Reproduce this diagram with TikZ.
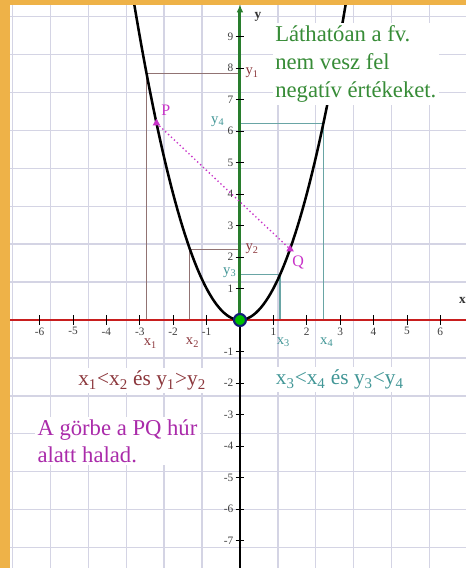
\documentclass[tikz,border=0pt]{standalone}
\usepackage{fontspec}
\setmainfont{Liberation Serif}
\usetikzlibrary{arrows.meta,shapes.geometric,positioning}

\definecolor{frameorange}{RGB}{238,178,72}
\definecolor{gridgray}{RGB}{212,212,228}
\definecolor{axisred}{RGB}{200,30,30}
\definecolor{axisgreen}{RGB}{40,125,45}
\definecolor{brownline}{RGB}{145,115,115}
\definecolor{brownlabel}{RGB}{140,55,60}
\definecolor{tealline}{RGB}{105,165,165}
\definecolor{teallabel}{RGB}{65,150,150}
\definecolor{chordpink}{RGB}{200,50,200}
\definecolor{notegreen}{RGB}{55,140,55}
\definecolor{originblue}{RGB}{20,30,120}

\begin{document}
\begin{tikzpicture}[
  x=25.05pt, y=23.63pt,
  gridline/.style={draw=gridgray, line width=1pt},
  tick/.style={black, line width=0.6pt},
  ticklabel/.style={font=\fontsize{8.5}{8.5}\selectfont, text=black!75, inner sep=1pt},
  curve/.style={line width=1.9pt, black},
  helpbrown/.style={draw=brownline, line width=0.8pt},
  helpteal/.style={draw=tealline, line width=0.8pt},
  brownlbl/.style={text=brownlabel, font=\fontsize{11}{11}\selectfont, inner sep=1pt},
  teallbl/.style={text=teallabel, font=\fontsize{11}{11}\selectfont, inner sep=1pt},
  marker/.style={regular polygon, regular polygon sides=3, fill=chordpink, inner sep=0pt, minimum size=6.5pt},
  note/.style={fill=white, align=left, inner sep=2pt}
]
\useasboundingbox (-7.186,-7.873) rectangle (6.766,10.159);
\clip (-7.186,-7.873) rectangle (6.766,10.159);
\fill[white] (-7.186,-7.873) rectangle (6.766,10.159);

% grid
\draw[gridline] (-7,-8) grid (7,10);

% helper lines
\coordinate (o) at (0,0);
\coordinate (xa) at (-2.8,0);
\coordinate (ya) at (0,7.84);
\coordinate (xb) at (-1.5,0);
\coordinate (yb) at (0,2.25);
\coordinate (xc) at (1.2,0);
\coordinate (yc) at (0,1.44);
\coordinate (xd) at (2.5,0);
\coordinate (yd) at (0,6.25);
\draw[helpbrown] (xa) |- (ya);
\draw[helpbrown] (xb) |- (yb);
\draw[helpteal] (xc) |- (yc);
\draw[helpteal] (xd) |- (yd);

% axes
\coordinate (xleft) at (-7.3,0);
\coordinate (xright) at (6.9,0);
\coordinate (ytop) at (0,10.02);
\coordinate (ybottom) at (0,-8);
\draw[axisred, line width=1.8pt] (xleft) -- (xright);
\draw[black, line width=1.4pt] (o) -- (ybottom);
\draw[axisgreen, line width=2.2pt, -{Latex[length=6pt,width=5pt]}] (o) -- (ytop);

\foreach \i in {-6,...,-1,1,2,...,6}{
  \draw[tick] (\i,-0.15) -- (\i,0.15);
  \node[ticklabel] (tx\i) at (\i,-0.36) {\i};
}
\foreach \j in {-7,...,-1,1,2,...,9}{
  \draw[tick] (-0.13,\j) -- (0.13,\j);
  \node[ticklabel, anchor=east] (ty\j) at (-0.15,\j) {\j};
}
\node[font=\fontsize{10}{10}\selectfont\bfseries, text=black!80] (ylabel) at (0.54,9.62) {y};
\node[font=\fontsize{10}{10}\selectfont\bfseries, text=black!80] (xlabel) at (6.66,0.63) {x};

% parabola
\draw[curve] plot[domain=-3.25:3.25, samples=90] (\x,{\x*\x});

% chord
\coordinate (P) at (-2.5,6.25);
\coordinate (Q) at (1.5,2.25);
\draw[chordpink, dotted, line width=1pt] (P) -- (Q);
\node[marker] (mp) at (P) {};
\node[marker] (mq) at (Q) {};
\node[text=chordpink, font=\fontsize{12}{12}\selectfont] (plabel) at (-2.22,6.66) {P};
\node[text=chordpink, font=\fontsize{12}{12}\selectfont] (qlabel) at (1.74,1.84) {Q};

% origin
\node[circle, fill=green!75!black, draw=originblue, line width=1.6pt, inner sep=0pt, minimum size=9pt] (origin) at (o) {};

% labels of helper lines
\node[brownlbl, anchor=west] (ylbla) at (0.12,7.84) {y\textsubscript{1}};
\node[brownlbl, anchor=west] (ylblb) at (0.12,2.25) {y\textsubscript{2}};
\node[teallbl, anchor=east] (ylblc) at (-0.06,1.5) {y\textsubscript{3}};
\node[teallbl, anchor=east] (ylbld) at (-0.42,6.3) {y\textsubscript{4}};
\node[brownlbl] (xlbla) at (-2.68,-0.75) {x\textsubscript{1}};
\node[brownlbl] (xlblb) at (-1.42,-0.72) {x\textsubscript{2}};
\node[teallbl] (xlblc) at (1.3,-0.7) {x\textsubscript{3}};
\node[teallbl] (xlbld) at (2.6,-0.7) {x\textsubscript{4}};

% notes
\node[note, anchor=north west, text=notegreen, font=\fontsize{17}{21}\selectfont] (seen) at (0.97,9.45) {Láthatóan a fv.\\nem vesz fel\\negatív értékeket.};
\node[note, text=brownlabel, font=\fontsize{16}{16}\selectfont] (cmpleft) at (-2.93,-1.93) {x\textsubscript{1}<x\textsubscript{2} és y\textsubscript{1}>y\textsubscript{2}};
\node[note, text=teallabel, font=\fontsize{16}{16}\selectfont] (cmpright) at (2.99,-1.9) {x\textsubscript{3}<x\textsubscript{4} és y\textsubscript{3}<y\textsubscript{4}};
\node[note, anchor=west, text=chordpink!85!black, font=\fontsize{17}{20}\selectfont] (below) at (-6.15,-3.84) {A görbe a PQ húr\\alatt halad.};

% frame
\fill[frameorange] (-7.186,-7.873) rectangle (-6.886,10.159);
\fill[frameorange] (-7.186,10.0) rectangle (6.766,10.159);
\end{tikzpicture}
\end{document}
